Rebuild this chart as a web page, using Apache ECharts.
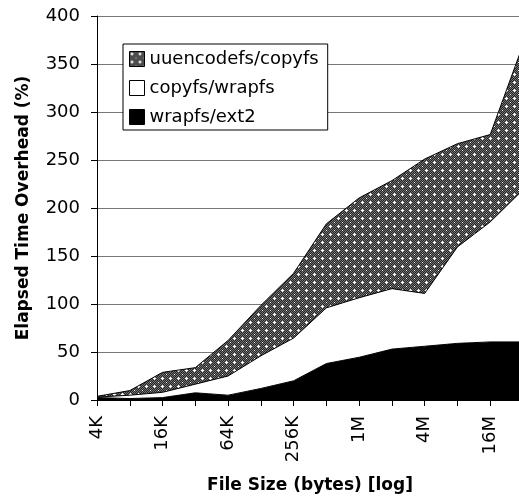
<!DOCTYPE html>
<html>
<head>
<meta charset="utf-8">
<script src="https://cdn.jsdelivr.net/npm/echarts@6/dist/echarts.min.js"></script>
<style>
html,body{margin:0;padding:0;background:#fff;}
#chart{width:519px;height:499px;}
</style>
</head>
<body>
<div id="chart"></div>
<script>
// Data (elapsed time overhead, %, per layer; stacked)
const fileSizes = ['4K','8K','16K','32K','64K','128K','256K','512K','1M','2M','4M','8M','16M','32M'];
const wrapfsExt2     = [2.5, 1.5, 2.5, 7.5, 5, 12, 20, 38, 44.5, 53, 56, 59, 60.5, 60.5];
const copyfsWrapfs   = [0.5, 3.5, 5.5, 9, 20, 34, 44.5, 58, 62, 63, 55, 100.5, 125, 158.5];
const uuencodeCopyfs = [0.8, 4.8, 20.8, 17.2, 37, 52.5, 67.5, 87.5, 104, 112.5, 140, 107.5, 91, 151];
const yTicks = {min: 0, max: 400, interval: 50};

function makePattern() {
  const c = document.createElement('canvas');
  c.width = 8; c.height = 8;
  const ctx = c.getContext('2d');
  ctx.fillStyle = '#242424';
  ctx.fillRect(0, 0, 8, 8);
  ctx.fillStyle = '#747474';
  for (let x = 0; x < 8; x++) for (let y = 0; y < 8; y++) {
    if ((x + y) % 2 === 0) ctx.fillRect(x, y, 1, 1);
  }
  ctx.fillStyle = '#ffffff';
  [[2,1],[1,2],[2,2],[3,2],[2,3],[6,6]].forEach(p => ctx.fillRect(p[0], p[1], 1, 1));
  return c;
}
const pattern = {image: makePattern(), repeat: 'repeat'};

const FONT = 'DejaVu Sans';
const chart = echarts.init(document.getElementById('chart'), null, {renderer: 'canvas'});
chart.setOption({
  animation: false,
  backgroundColor: '#fff',
  textStyle: {fontFamily: FONT, color: '#000'},
  grid: {left: 97, top: 16, width: 426, height: 384, containLabel: false, outerBoundsMode: 'none'},
  legend: {
    orient: 'vertical',
    left: 123, top: 44,
    padding: [6, 9, 4, 6],
    itemGap: 11,
    itemWidth: 15, itemHeight: 15,
    backgroundColor: '#fff',
    borderColor: '#000', borderWidth: 1,
    icon: 'rect',
    itemStyle: {borderColor: '#000', borderWidth: 1},
    textStyle: {fontFamily: FONT, fontSize: 18, color: '#000', lineHeight: 18},
    data: ['uuencodefs/copyfs', 'copyfs/wrapfs', 'wrapfs/ext2']
  },
  xAxis: {
    type: 'category',
    data: fileSizes,
    boundaryGap: false,
    name: 'File Size (bytes) [log]',
    nameLocation: 'middle',
    nameGap: 77,
    nameTextStyle: {fontFamily: FONT, fontSize: 17, fontWeight: 'bold', color: '#000'},
    axisLine: {lineStyle: {color: '#000', width: 1}},
    axisTick: {show: true, interval: 0, length: 6, lineStyle: {color: '#000'}},
    axisLabel: {interval: 1, rotate: 90, margin: 16, fontFamily: FONT, fontSize: 18, color: '#000'},
    splitLine: {show: false}
  },
  yAxis: {
    type: 'value',
    min: yTicks.min, max: yTicks.max, interval: yTicks.interval,
    name: 'Elapsed Time Overhead (%)',
    nameLocation: 'middle',
    nameGap: 65,
    nameTextStyle: {fontFamily: FONT, fontSize: 17, fontWeight: 'bold', color: '#000'},
    axisLine: {show: true, lineStyle: {color: '#000', width: 1}},
    axisTick: {show: true, length: 6, lineStyle: {color: '#000'}},
    axisLabel: {margin: 17, fontFamily: FONT, fontSize: 18, color: '#000'},
    splitLine: {show: true, lineStyle: {color: '#777', width: 1}}
  },
  series: [
    {
      name: 'wrapfs/ext2', type: 'line', stack: 'total', symbol: 'none',
      data: wrapfsExt2,
      itemStyle: {color: '#000'},
      lineStyle: {color: '#000', width: 1},
      areaStyle: {color: '#000', opacity: 1}
    },
    {
      name: 'copyfs/wrapfs', type: 'line', stack: 'total', symbol: 'none',
      data: copyfsWrapfs,
      itemStyle: {color: '#fff'},
      lineStyle: {color: '#000', width: 1},
      areaStyle: {color: '#fff', opacity: 1}
    },
    {
      name: 'uuencodefs/copyfs', type: 'line', stack: 'total', symbol: 'none',
      data: uuencodeCopyfs,
      itemStyle: {color: pattern},
      lineStyle: {color: '#000', width: 1},
      areaStyle: {color: pattern, opacity: 1}
    }
  ]
});
</script>
</body>
</html>
